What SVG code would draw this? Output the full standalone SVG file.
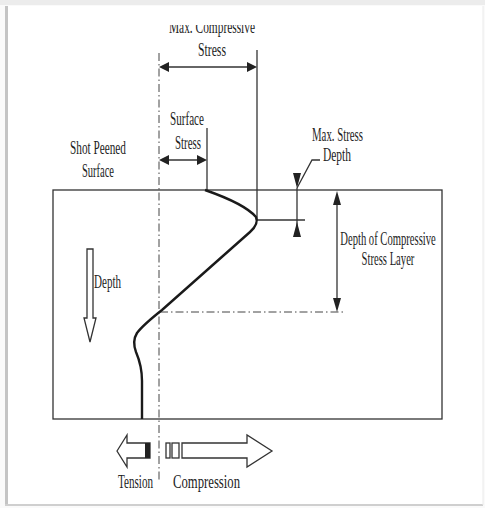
<svg xmlns="http://www.w3.org/2000/svg" width="485" height="508" viewBox="0 0 485 508">
<style>
.t{font-family:"Liberation Serif","Times New Roman",serif;font-size:18px;fill:#1e1e1e;text-anchor:middle}
.ln{stroke:#333;stroke-width:1.3;fill:none}
.dd{stroke:#444;stroke-width:1;fill:none;stroke-dasharray:8 3 1.5 3}
.ah{fill:#222;stroke:none}
.hol{fill:#fff;stroke:#333;stroke-width:1.3;stroke-linejoin:miter}
</style>
<defs>
<clipPath id="topclip"><rect x="0" y="25" width="485" height="40"/></clipPath>
</defs>
<rect x="0" y="0" width="485" height="508" fill="#fafafa"/>
<rect x="7" y="6" width="476" height="498" fill="#fff"/>
<rect x="0" y="0" width="485" height="5" fill="#ececec"/>
<rect x="5" y="6" width="3" height="499" fill="#c4c4c4"/>
<rect x="5" y="504" width="478" height="2" fill="#cfcfcf"/>
<line x1="483" y1="6" x2="483" y2="505" stroke="#eaeaea" stroke-width="1"/>

<g id="specimen">
<rect x="53" y="190" width="389" height="229" class="ln" stroke-width="1.6"/>
</g>

<g id="connectors">
<line x1="159" y1="53" x2="159" y2="482" class="dd"/>
<line x1="160" y1="312" x2="346" y2="312" class="dd"/>
<line x1="257" y1="50" x2="257" y2="220" class="ln"/>
<line x1="257" y1="220" x2="305" y2="220" class="ln"/>
<line x1="207" y1="128" x2="207" y2="190" class="ln"/>
<line x1="165" y1="67" x2="251" y2="67" class="ln" stroke-width="1.6"/>
<polygon class="ah" points="159,67 169,62 169,72"/>
<polygon class="ah" points="257,67 247,62 247,72"/>
<line x1="165" y1="160" x2="201" y2="160" class="ln" stroke-width="1.6"/>
<polygon class="ah" points="159,160 169,155 169,165"/>
<polygon class="ah" points="207,160 197,155 197,165"/>
<line x1="297" y1="188" x2="297" y2="237" class="ln" stroke-width="1"/>
<polygon class="ah" points="293,173 301,173 297,188"/>
<polygon class="ah" points="297,222 293,237 301,237"/>
<polyline points="297,188 312,160 320,160" class="ln"/>
<line x1="337" y1="200" x2="337" y2="302" class="ln" stroke-width="1"/>
<polygon class="ah" points="337,191 333,205 341,205"/>
<polygon class="ah" points="337,312 333,298 341,298"/>
<path d="M205,190 Q245,204 256,217 Q259,224 250,232 L162,310 Q143,325 137,333 Q132,341 136,352 Q142,366 142,381 L142,419" stroke="#1a1a1a" stroke-width="2.4" fill="none"/>
</g>

<g id="depth-arrow">
<polygon class="hol" points="87,249 93,249 93,318 96,318 90,342 84,318 87,318"/>
<text class="t" x="107.5" y="288" textLength="27" lengthAdjust="spacingAndGlyphs">Depth</text>
</g>

<g id="tension">
<polygon class="hol" points="117,451 127,435 127,443 150,443 150,458 127,458 127,467"/>
<rect x="145" y="443" width="5" height="15" fill="#222"/>
<text class="t" x="135.5" y="488" textLength="35" lengthAdjust="spacingAndGlyphs">Tension</text>
</g>

<g id="compression">
<rect x="166" y="443" width="4" height="15" class="hol" stroke-width="1"/>
<rect x="172" y="443" width="7" height="15" class="hol" stroke-width="1"/>
<polygon class="hol" points="182,443 247,443 247,435 272,451 247,467 247,458 182,458"/>
<text class="t" x="206.5" y="488" textLength="67" lengthAdjust="spacingAndGlyphs">Compression</text>
</g>

<g id="max-compressive">
<text class="t" x="212" y="33" textLength="86" lengthAdjust="spacingAndGlyphs" clip-path="url(#topclip)">Max. Compressive</text>
<text class="t" x="212" y="56" textLength="28" lengthAdjust="spacingAndGlyphs">Stress</text>
</g>

<g id="surface-stress">
<text class="t" x="187" y="125" textLength="34" lengthAdjust="spacingAndGlyphs">Surface</text>
<text class="t" x="188" y="149" textLength="26" lengthAdjust="spacingAndGlyphs">Stress</text>
</g>

<g id="shot-peened">
<text class="t" x="98" y="154" textLength="56" lengthAdjust="spacingAndGlyphs">Shot Peened</text>
<text class="t" x="98" y="177" textLength="32" lengthAdjust="spacingAndGlyphs">Surface</text>
</g>

<g id="max-stress-depth">
<text class="t" x="337.5" y="141" textLength="51" lengthAdjust="spacingAndGlyphs">Max. Stress</text>
<text class="t" x="337" y="161" textLength="28" lengthAdjust="spacingAndGlyphs">Depth</text>
</g>

<g id="layer-depth">
<text class="t" transform="translate(388,245) scale(0.59,1)" x="0" y="0">Depth of Compressive</text>
<text class="t" transform="translate(388,265) scale(0.59,1)" x="0" y="0">Stress Layer</text>
</g>
</svg>
